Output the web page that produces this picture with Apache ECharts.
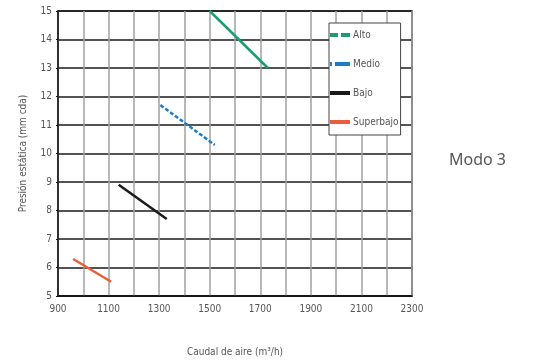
<!DOCTYPE html>
<html><head><meta charset="utf-8">
<script src="https://cdn.jsdelivr.net/npm/echarts@6/dist/echarts.min.js"></script>
<style>html,body{margin:0;padding:0;background:#fff}#c{width:554px;height:363px}</style>
</head><body><div id="c"></div>
<script>
const seriesNames = ['Alto', 'Medio', 'Bajo', 'Superbajo'];
const altoData = [[1500, 15.0], [1730, 13.0]];
const medioData = [[1305, 11.7], [1520, 10.3]];
const bajoData = [[1140, 8.9], [1330, 7.7]];
const superbajoData = [[960, 6.3], [1110, 5.5]];
const xTicks = [900, 1100, 1300, 1500, 1700, 1900, 2100, 2300];
const yTicks = [5, 6, 7, 8, 9, 10, 11, 12, 13, 14, 15];

const FONT = "'DejaVu Sans Condensed', 'Liberation Sans Narrow', 'Liberation Sans', sans-serif";
const colors = ['#1a9c74', '#1f7cc4', '#1a1a1a', '#e8603a'];
const lineTypes = ['solid', [4, 2], 'solid', 'solid'];
const legendIcons = [
  'path://M0,0h8v4h-8z M11,0h9v4h-9z',
  'path://M0,0h2v4h-2z M5,0h15v4h-15z',
  'path://M0,0h20v4h-20z',
  'path://M0,0h20v4h-20z'
];
const datas = [altoData, medioData, bajoData, superbajoData];

const chart = echarts.init(document.getElementById('c'), null, {renderer: 'canvas'});
chart.setOption({
  animation: false,
  backgroundColor: '#fff',
  title: {
    text: 'Modo 3', left: 444, top: 147,
    textStyle: {fontFamily: "'Noto Sans', sans-serif", fontSize: 16, fontWeight: 'normal', color: '#555'}
  },
  grid: {left: 58, right: 142, top: 11, bottom: 67, show: true, borderColor: '#222', borderWidth: 1.5},
  xAxis: {
    type: 'value', min: 900, max: 2300, interval: 100,
    name: 'Caudal de aire (m³/h)', nameLocation: 'middle', nameGap: 51,
    nameTextStyle: {fontFamily: FONT, fontSize: 10, color: '#555'},
    axisLine: {show: true, lineStyle: {color: '#111', width: 1.5}},
    axisTick: {show: false},
    axisLabel: {
      fontFamily: FONT, fontSize: 10, color: '#555', margin: 8,
      formatter: v => xTicks.indexOf(v) >= 0 ? String(v) : ''
    },
    splitLine: {show: true, lineStyle: {color: '#a0a0a0', width: 1.5}}
  },
  yAxis: {
    type: 'value', min: 5, max: 15, interval: 1,
    name: 'Presión estática (mm cda)', nameLocation: 'middle', nameGap: 30,
    nameTextStyle: {fontFamily: FONT, fontSize: 10, color: '#555'},
    axisLine: {show: true, lineStyle: {color: '#111', width: 1.5}},
    axisTick: {show: true, length: 2, inside: false, lineStyle: {color: '#111'}},
    axisLabel: {
      fontFamily: FONT, fontSize: 10, color: '#555', margin: 6,
      formatter: v => yTicks.indexOf(v) >= 0 ? String(v) : ''
    },
    splitLine: {show: true, lineStyle: {color: '#1a1a1a', width: 1.5}}
  },
  legend: {
    orient: 'vertical', left: 329, top: 23,
    backgroundColor: '#fff', borderColor: '#444', borderWidth: 1, borderRadius: 0,
    padding: [7, 2, 8, 1], itemGap: 19, itemWidth: 20, itemHeight: 10,
    symbolKeepAspect: true,
    textStyle: {fontFamily: FONT, fontSize: 10, color: '#555', padding: [0, 0, 0, -2]},
    data: seriesNames.map((n, i) => ({
      name: n, icon: legendIcons[i],
      itemStyle: {color: colors[i]}
    }))
  },
  series: seriesNames.map((n, i) => ({
    name: n, type: 'line', data: datas[i], symbol: 'none', z: 5,
    lineStyle: {color: colors[i], width: 2.5, type: lineTypes[i]},
    itemStyle: {color: colors[i]}
  }))
});
</script></body></html>
